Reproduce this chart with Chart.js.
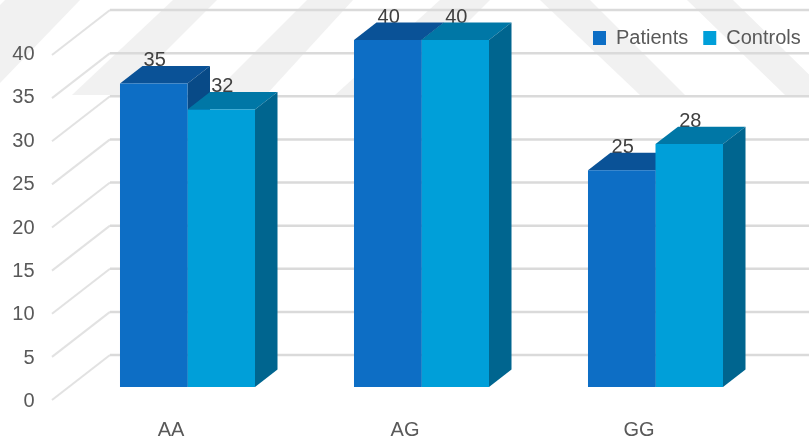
<!DOCTYPE html>
<html>
<head>
<meta charset="utf-8">
<title>Genotype distribution</title>
<script src="https://cdn.jsdelivr.net/npm/chart.js@4"></script>
<style>
  html, body { margin: 0; padding: 0; background: #fff; }
  canvas { display: block; }
</style>
</head>
<body>
<canvas id="myChart" width="809" height="442"></canvas>
<script>
// values for each genotype
const categories = ['AA', 'AG', 'GG'];
const patients = [35, 40, 25];
const controls = [32, 40, 28];
const yTicks = [0, 5, 10, 15, 20, 25, 30, 35, 40];

const fontName = '"Liberation Sans", Arial, sans-serif';

// how far the bars and the back wall sit behind the front plane
const barDepth = { x: 22.5, y: -17.4 };
const floorDepth = { x: 58, y: -45 };

// colours of each series: front, top, side
const patientColors = ['#0d6ec5', '#0a5297', '#084a87'];
const controlColors = ['#009fd9', '#0077a6', '#00658f'];

// pale diagonal bands behind the plot
const bands = [
    [[5, 0], [80, 0], [0, 83], [0, 5]],
    [[173, 0], [217, 0], [122, 95], [72, 95]],
    [[307, 0], [353, 0], [266, 95], [212, 95]],
    [[440, 0], [490, 0], [395, 95], [335, 95]],
    [[540, 0], [590, 0], [685, 95], [640, 95]],
    [[687, 0], [733, 0], [830, 95], [785, 95]]
];

function fillPoly (ctx, points, color) {
    ctx.fillStyle = color;
    ctx.beginPath();
    points.forEach((p, i) => i === 0 ? ctx.moveTo(p[0], p[1]) : ctx.lineTo(p[0], p[1]));
    ctx.closePath();
    ctx.fill();
}

// back wall y for a value, the wall scale is a little flatter than the front
function wallY (scale, value) {
    return 355 + (scale.getPixelForValue(value) - scale.bottom) * 345 / 347;
}

const box3d = {
    id: 'box3d',
    beforeLayout (chart) {
        // legend floats over the plot, it should not take any layout height
        const legend = chart.legend;
        if (legend && !legend.patched) {
            const fit = legend.fit;
            legend.fit = function () {
                fit.call(this);
                this.height = 0;
            };
            legend.patched = true;
        }
    },
    afterLayout (chart) {
        const legend = chart.legend;
        legend.left = 593 - legend.options.labels.padding;
        legend.right = 860;
        legend.width = legend.right - legend.left;
        legend.top = 13;
        legend.height = 50;
        legend.bottom = 63;
    },
    beforeDraw (chart) {
        const ctx = chart.ctx;
        ctx.save();
        ctx.fillStyle = '#fff';
        ctx.fillRect(0, 0, chart.width, chart.height);
        bands.forEach(b => fillPoly(ctx, b, '#f1f1f1'));
        ctx.restore();
    },
    beforeDatasetsDraw (chart) {
        const ctx = chart.ctx;
        const y = chart.scales.y;
        const x = chart.scales.x;
        ctx.save();

        // grid: slanted part on the left wall, then the back wall
        for (const tick of yTicks) {
            const back = wallY(y, tick);
            ctx.strokeStyle = '#e2e2e2';
            ctx.lineWidth = 2;
            ctx.beginPath();
            ctx.moveTo(x.left - 18.5, back - floorDepth.y);
            ctx.lineTo(x.left + floorDepth.x - 18.5, back);
            ctx.stroke();
            ctx.strokeStyle = '#dadada';
            ctx.lineWidth = 2.5;
            ctx.beginPath();
            ctx.moveTo(x.left + floorDepth.x - 18.5, back);
            ctx.lineTo(chart.width, back);
            ctx.stroke();
        }

        // value labels go first so the top faces cut into them a little
        chart.data.datasets.forEach((ds, i) => {
            const colors = i === 0 ? patientColors : controlColors;
            chart.getDatasetMeta(i).data.forEach((bar, j) => {
                const left = bar.x - bar.width / 2;
                const right = bar.x + bar.width / 2;
                const dx = barDepth.x;
                const dy = barDepth.y;

                ctx.fillStyle = '#404040';
                ctx.font = '20px ' + fontName;
                ctx.textAlign = 'center';
                ctx.textBaseline = 'middle';
                ctx.fillText(String(ds.data[j]), bar.x + 1, bar.y - 23);

                fillPoly(ctx, [[left, bar.y], [right, bar.y], [right + dx, bar.y + dy], [left + dx, bar.y + dy]], colors[1]);
                fillPoly(ctx, [[right, bar.y], [right + dx, bar.y + dy], [right + dx, bar.base + dy], [right, bar.base]], colors[2]);
            });
        });
        ctx.restore();
    }
};

const data = {
    labels: categories,
    datasets: [
        { label: 'Patients', data: patients, backgroundColor: patientColors[0] },
        { label: 'Controls', data: controls, backgroundColor: controlColors[0] }
    ]
};

const config = {
    type: 'bar',
    data: data,
    options: {
        responsive: false,
        animation: false,
        barPercentage: 1,
        categoryPercentage: 0.577,
        layout: { padding: { top: 40, right: 36.5, left: 0, bottom: 0 } },
        plugins: {
            tooltip: { enabled: false },
            legend: {
                position: 'top',
                align: 'start',
                labels: {
                    boxWidth: 13,
                    boxHeight: 14,
                    padding: 15,
                    color: '#595959',
                    font: { family: fontName, size: 20 }
                }
            }
        },
        scales: {
            x: {
                afterFit: scale => { scale.height = 55; },
                border: { display: false },
                grid: { display: false, drawTicks: false },
                ticks: {
                    color: '#595959',
                    padding: 31,
                    labelOffset: -16.5,
                    maxRotation: 0,
                    font: { family: fontName, size: 20 }
                }
            },
            y: {
                min: 0,
                max: 40,
                afterFit: scale => {
                    // tick padding would otherwise push the plot top down
                    scale.width = 70.5;
                    scale.paddingTop = 0;
                    scale.paddingBottom = 0;
                },
                border: { display: false },
                grid: { display: false, drawTicks: false },
                ticks: {
                    stepSize: 5,
                    color: '#595959',
                    padding: 36,
                    labelOffset: 14.5,
                    autoSkip: false,
                    font: { family: fontName, size: 20 }
                }
            }
        }
    },
    plugins: [box3d]
};

const myChart = new Chart(document.getElementById('myChart'), config);
</script>
</body>
</html>
